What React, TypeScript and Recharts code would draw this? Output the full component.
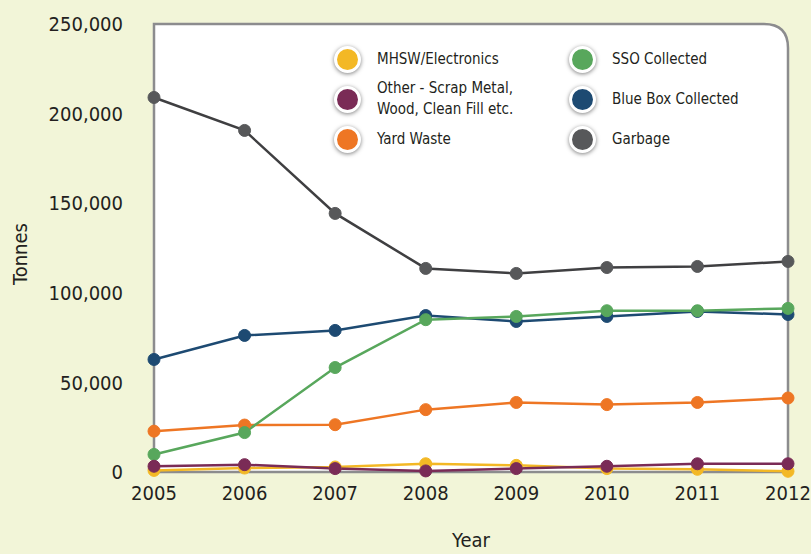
import { Legend, Line, LineChart, ReferenceArea, XAxis, YAxis } from 'recharts'

const years = ['2005', '2006', '2007', '2008', '2009', '2010', '2011', '2012']

const mhsw = [900, 2200, 2800, 4600, 3700, 1900, 1500, 400]
const other = [3200, 4100, 1900, 600, 1900, 3200, 4600, 4600]
const yardWaste = [22800, 26200, 26400, 34800, 38800, 37600, 38800, 41300]
const ssoCollected = [9800, 22000, 58300, 85000, 86800, 90000, 90000, 91300]
const blueBox = [62800, 76200, 79000, 87300, 84000, 86800, 89600, 87900]
const garbage = [209000, 190600, 144300, 113600, 110800, 114100, 114700, 117500]

const yTicks = [0, 50000, 100000, 150000, 200000, 250000]

const series = [
  { key: 'garbage', name: 'Garbage', values: garbage, color: '#57585A', line: '#3F3F41' },
  { key: 'blueBox', name: 'Blue Box Collected', values: blueBox, color: '#1D4A72', line: '#1D4A72' },
  { key: 'yard', name: 'Yard Waste', values: yardWaste, color: '#EE7624', line: '#EE7624' },
  { key: 'sso', name: 'SSO Collected', values: ssoCollected, color: '#58A75C', line: '#58A75C' },
  { key: 'mhsw', name: 'MHSW/Electronics', values: mhsw, color: '#F3B825', line: '#F3B825' },
  { key: 'other', name: 'Other - Scrap Metal, Wood, Clean Fill etc.', values: other, color: '#7A2B56', line: '#7A2B56' },
]

// legend reads left column top-down, then right column
const legendOrder = [
  ['mhsw', 'sso'],
  ['other', 'blueBox'],
  ['yard', 'garbage'],
]
const legendText: Record<string, string[]> = {
  mhsw: ['MHSW/Electronics'],
  other: ['Other - Scrap Metal,', 'Wood, Clean Fill etc.'],
  yard: ['Yard Waste'],
  sso: ['SSO Collected'],
  blueBox: ['Blue Box Collected'],
  garbage: ['Garbage'],
}

const data = years.map((year, i) => {
  const row: Record<string, string | number> = { year }
  series.forEach((s) => {
    row[s.key] = s.values[i]
  })
  return row
})

const FONT = '"Liberation Sans Narrow", "DejaVu Sans Condensed", "Roboto Condensed", sans-serif'

function Panel(props: any) {
  const { x, y, width, height } = props
  const r = 24
  const d = `M${x},${y + height} L${x},${y} L${x + width - r},${y} Q${x + width},${y} ${x + width},${y + r} L${x + width},${y + height} Z`
  return <path d={d} fill="#ffffff" stroke="#8C8C8E" strokeWidth={2.5} />
}

function LegendBox() {
  return (
    <div
      style={{
        display: 'grid',
        gridTemplateColumns: '235px 200px',
        fontFamily: FONT,
        fontSize: 15,
        color: '#231F20',
      }}
    >
      {legendOrder.flat().map((key) => {
        const s = series.find((x) => x.key === key)!
        return (
          <div key={key} style={{ display: 'flex', alignItems: 'center', height: 40 }}>
            <span
              style={{
                boxSizing: 'border-box',
                width: 27,
                height: 27,
                borderRadius: '50%',
                background: s.color,
                border: '3px solid #fff',
                boxShadow: '0 1px 4px rgba(0,0,0,0.5)',
                marginRight: 16,
                flexShrink: 0,
              }}
            />
            <span style={{ lineHeight: '21px' }}>
              {legendText[key].map((t) => (
                <div key={t}>{t}</div>
              ))}
            </span>
          </div>
        )
      })}
    </div>
  )
}

function TonnesLabel(props: any) {
  const { viewBox } = props
  const cy = viewBox.y + viewBox.height / 2 + 6
  return (
    <text
      x={20}
      y={cy}
      transform={`rotate(-90 20 ${cy})`}
      textAnchor="middle"
      dominantBaseline="central"
      fontFamily={FONT}
      fontSize={20}
      fill="#231F20"
    >
      Tonnes
    </text>
  )
}

export default function App() {
  return (
    <div style={{ position: 'absolute', left: 0, top: 0, width: 811, height: 554, background: '#F2F5D8' }}>
      <LineChart width={811} height={554} data={data} margin={{ top: 24, right: 23, bottom: 0, left: 0 }}>
        <ReferenceArea x1="2005" x2="2012" y1={0} y2={250000} shape={<Panel />} ifOverflow="visible" />
        <XAxis
          dataKey="year"
          height={82}
          tickSize={0}
          tickMargin={14}
          axisLine={false}
          tick={{ fontSize: 20, fontFamily: FONT, fill: '#231F20' }}
          label={{ value: 'Year', position: 'insideBottom', offset: 7, fontSize: 20, fontFamily: FONT, fill: '#231F20' }}
        />
        <YAxis
          width={154}
          domain={[0, 250000]}
          ticks={yTicks}
          tickSize={0}
          tickMargin={31}
          axisLine={false}
          tickFormatter={(v) => Number(v).toLocaleString('en-US')}
          tick={{ fontSize: 20, fontFamily: FONT, fill: '#231F20' }}
          label={<TonnesLabel />}
        />
        <Legend
          layout="horizontal"
          verticalAlign="middle"
          align="center"
          content={() => <LegendBox />}
          wrapperStyle={{ top: 39, left: 334, width: 440 }}
        />
        {series.map((s) => (
          <Line
            key={s.key}
            dataKey={s.key}
            name={s.name}
            type="linear"
            stroke={s.line}
            strokeWidth={2.5}
            dot={{ r: 6, fill: s.color, stroke: s.color, strokeWidth: 1 }}
            activeDot={false}
            isAnimationActive={false}
          />
        ))}
      </LineChart>
    </div>
  )
}
